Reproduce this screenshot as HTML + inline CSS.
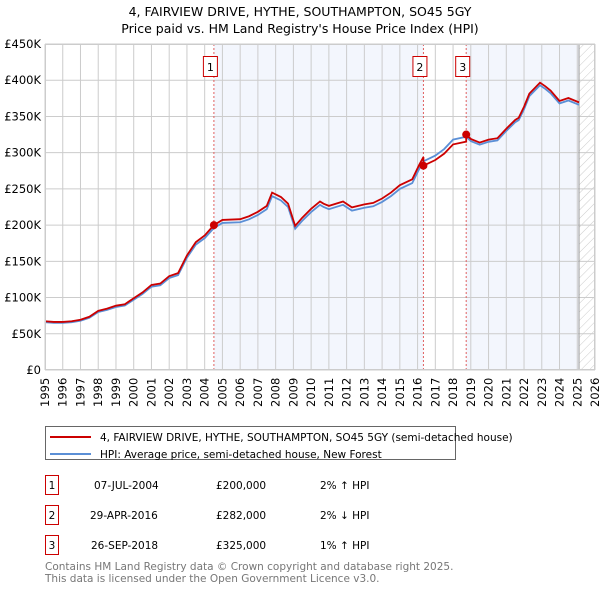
<!DOCTYPE html>
<html><head><meta charset="utf-8"><style>
body{margin:0;background:#fff;font-family:"DejaVu Sans","Liberation Sans",sans-serif;}
svg text{font-family:"DejaVu Sans","Liberation Sans",sans-serif;}
</style></head><body>
<svg id="c" width="600" height="590" xmlns="http://www.w3.org/2000/svg">
<defs><pattern id="hatch" width="6" height="6" patternUnits="userSpaceOnUse" patternTransform="rotate(45)"><line x1="0" y1="0" x2="0" y2="6" stroke="#ccc" stroke-width="1"/></pattern></defs>
<text x="300" y="16" text-anchor="middle" font-size="12.5" fill="#000">4, FAIRVIEW DRIVE, HYTHE, SOUTHAMPTON, SO45 5GY</text>
<text x="300" y="33" text-anchor="middle" font-size="12.5" fill="#000">Price paid vs. HM Land Registry's House Price Index (HPI)</text>
<g id="plot"></g>
<g>
<rect x="45.5" y="426.5" width="410" height="33" fill="#fff" stroke="#666"/>
<line x1="50" y1="437" x2="91" y2="437" stroke="#cc0000" stroke-width="2"/>
<text x="100" y="441" font-size="10.5">4, FAIRVIEW DRIVE, HYTHE, SOUTHAMPTON, SO45 5GY (semi-detached house)</text>
<line x1="50" y1="454" x2="91" y2="454" stroke="#5b8fd6" stroke-width="2"/>
<text x="100" y="458" font-size="10.5">HPI: Average price, semi-detached house, New Forest</text>
</g>
<g font-size="10.5">
<rect x="45.5" y="475.5" width="13" height="19" fill="#fff" stroke="#cc0000"/><text x="52" y="489" text-anchor="middle">1</text>
<text x="94" y="489">07-JUL-2004</text><text x="216" y="489">£200,000</text><text x="320" y="489">2% ↑ HPI</text>
<rect x="45.5" y="505.5" width="13" height="19" fill="#fff" stroke="#cc0000"/><text x="52" y="519" text-anchor="middle">2</text>
<text x="90" y="519">29-APR-2016</text><text x="216" y="519">£282,000</text><text x="320" y="519">2% ↓ HPI</text>
<rect x="45.5" y="535.5" width="13" height="19" fill="#fff" stroke="#cc0000"/><text x="52" y="549" text-anchor="middle">3</text>
<text x="91" y="549">26-SEP-2018</text><text x="216" y="549">£325,000</text><text x="320" y="549">1% ↑ HPI</text>
</g>
<text x="45" y="570" font-size="10.5" fill="#777">Contains HM Land Registry data © Crown copyright and database right 2025.</text>
<text x="45" y="582" font-size="10.5" fill="#777">This data is licensed under the Open Government Licence v3.0.</text>
</svg>
<script>
const years=[1995,1995.5,1996,1996.5,1997,1997.5,1998,1998.5,1999,1999.5,2000,2000.5,2001,2001.5,2002,2002.5,2003,2003.5,2004,2004.52,2005,2006,2006.5,2007,2007.5,2007.8,2008.3,2008.7,2009.1,2009.5,2010,2010.5,2010.7,2011,2011.8,2012.3,2013,2013.5,2014,2014.5,2015,2015.7,2016.1,2016.33,2017,2017.5,2018,2018.74,2019,2019.5,2020,2020.5,2021,2021.5,2021.7,2022,2022.3,2022.9,2023.2,2023.5,2024,2024.5,2025.1];
const hpi=[66000,65000,65000,66000,68000,72000,80000,83000,87000,89000,97000,105000,115000,117000,127000,131000,155000,173000,182000,196000,203000,204000,208000,214000,222000,240000,234000,225000,195000,206000,218000,228000,225000,222000,228000,220000,224000,226000,232000,240000,250000,258000,278000,288000,296000,305000,318000,322000,316000,311000,315000,317000,330000,342000,345000,360000,378000,393000,388000,382000,368000,372000,366000];
const saleYears=[2004.52,2016.33,2018.74];
const salePrices=[200000,282000,325000];
const saleLabels=["1","2","3"];
const yTicks=[0,50000,100000,150000,200000,250000,300000,350000,400000,450000];
const yTickLabels=["£0","£50K","£100K","£150K","£200K","£250K","£300K","£350K","£400K","£450K"];
const xTicks=[];for(let y=1995;y<=2026;y++)xTicks.push(y);
const X0=45,X1=595,Y0=370,Y1=44;
const xs=v=>X0+(v-1995)/(2026-1995)*(X1-X0);
const ys=v=>Y0-v/450000*(Y0-Y1);
const NS="http://www.w3.org/2000/svg";
const g=document.getElementById('plot');
function mk(t,a){const e=document.createElementNS(NS,t);for(const k in a)e.setAttribute(k,a[k]);g.appendChild(e);return e;}
function hpiAt(t){for(let i=1;i<years.length;i++)if(t<=years[i]){const f=(t-years[i-1])/(years[i]-years[i-1]);return hpi[i-1]+f*(hpi[i]-hpi[i-1]);}return hpi[hpi.length-1];}
const endData=2025.1;
let e;
e=mk('rect',{x:xs(saleYears[0]),y:Y1,width:xs(saleYears[1])-xs(saleYears[0]),height:Y0-Y1,fill:'#f3f6fd'});


e=mk('rect',{x:xs(saleYears[2]),y:Y1,width:xs(endData)-xs(saleYears[2]),height:Y0-Y1,fill:'#f3f6fd'});


e=mk('rect',{x:xs(endData),y:Y1,width:X1-xs(endData),height:Y0-Y1,fill:'url(#hatch)'});


yTicks.forEach((v,i)=>{
 e=mk('line',{x1:X0,x2:X1,y1:ys(v),y2:ys(v),stroke:'#ccc','stroke-width':1});
 
 
 e=mk('text',{x:X0-4,y:ys(v)+4,'text-anchor':'end','font-size':11.5});e.textContent=yTickLabels[i];
 
 
});
xTicks.forEach(v=>{
 e=mk('line',{x1:xs(v),x2:xs(v),y1:Y1,y2:Y0,stroke:'#ccc','stroke-width':1});
 
 
 e=mk('text',{x:0,y:0,'font-size':11.5,transform:`translate(${xs(v)+4},${Y0+37}) rotate(-90)`});e.textContent=v;
 
 
});
e=mk('line',{x1:xs(endData),x2:xs(endData),y1:Y1,y2:Y0,stroke:'#999','stroke-width':1});


saleYears.forEach((t,i)=>{
 e=mk('line',{x1:xs(t),x2:xs(t),y1:Y1,y2:Y0,stroke:'#e06060','stroke-width':1,'stroke-dasharray':'2,2'});
 
 
});
e=mk('polyline',{points:years.map((t,i)=>xs(t)+','+ys(hpi[i])).join(' '),fill:'none',stroke:'#5b8fd6','stroke-width':1.8});


const pts=[];
years.forEach((t,i)=>{
 let k=0;for(let j=0;j<saleYears.length;j++)if(t>=saleYears[j])k=j;
 const r=salePrices[k]/hpiAt(saleYears[k]);
 if(i>0&&k>0&&years[i-1]<saleYears[k]){pts.push(xs(saleYears[k])+','+ys(salePrices[k-1]/hpiAt(saleYears[k-1])*hpiAt(saleYears[k])));pts.push(xs(saleYears[k])+','+ys(salePrices[k]));}
 pts.push(xs(t)+','+ys(hpi[i]*r));
});
e=mk('polyline',{points:pts.join(' '),fill:'none',stroke:'#cc0000','stroke-width':1.8});


saleYears.forEach((t,i)=>{
 e=mk('circle',{cx:xs(t),cy:ys(salePrices[i]),r:4,fill:'#cc0000'});
 
 
 e=mk('rect',{x:xs(t)-10.5,y:56.5,width:14,height:20,fill:'#fff',stroke:'#cc0000'});
 
 
 e=mk('text',{x:xs(t)-3.5,y:71,'text-anchor':'middle','font-size':11});e.textContent=saleLabels[i];
 
 
});
e=mk('rect',{x:X0+0.5,y:Y1+0.5,width:X1-X0-1,height:Y0-Y1-1,fill:'none',stroke:'#ccc'});


</script>
</body></html>
